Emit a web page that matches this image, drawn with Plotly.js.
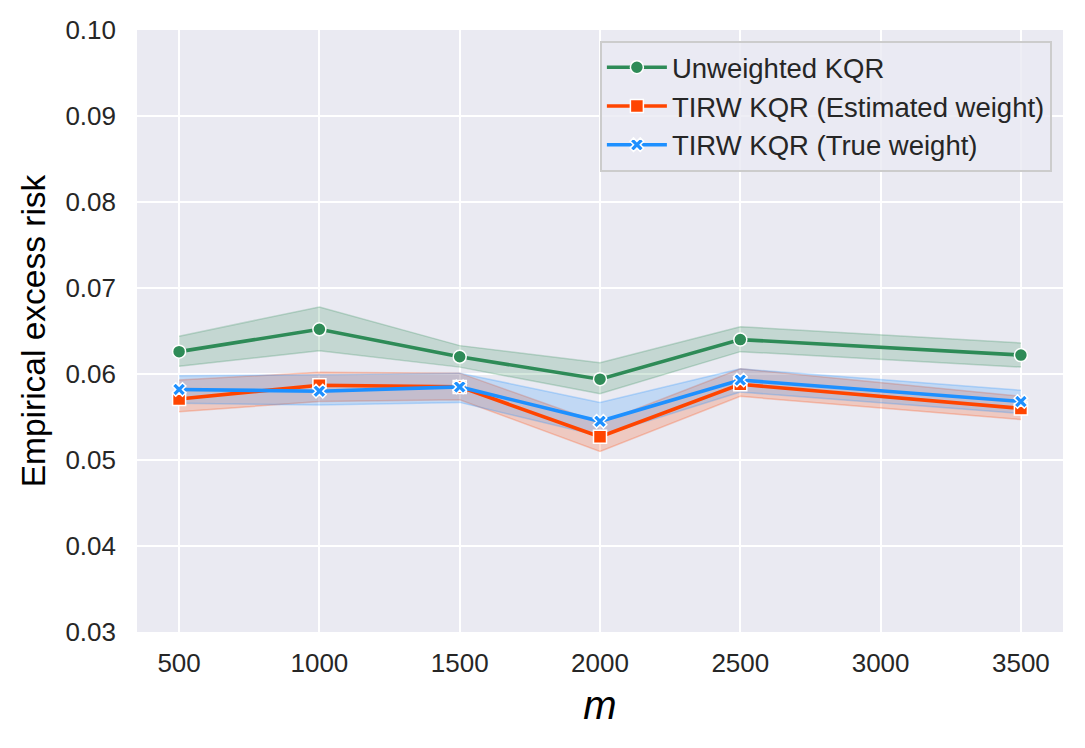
<!DOCTYPE html>
<html>
<head>
<meta charset="utf-8">
<script src="https://cdn.plot.ly/plotly-3.0.1.min.js"></script>
<style>html,body{margin:0;padding:0;background:#fff;}#chart{width:1085px;height:748px;}</style>
</head>
<body>
<div id="chart"></div>
<script>
const m = [500, 1000, 1500, 2000, 2500, 3500];
const xTicks = [500, 1000, 1500, 2000, 2500, 3000, 3500];
const yTicks = [0.03, 0.04, 0.05, 0.06, 0.07, 0.08, 0.09, 0.10];

const unweighted    = [0.0626, 0.0652, 0.0620, 0.0594, 0.0640, 0.0622];
const unweightedLo  = [0.0609, 0.0627, 0.0608, 0.0577, 0.0626, 0.0608];
const unweightedHi  = [0.0644, 0.0678, 0.0633, 0.0613, 0.0655, 0.0636];

const estimated     = [0.0571, 0.0587, 0.0585, 0.0527, 0.0588, 0.0560];
const estimatedLo   = [0.0556, 0.0568, 0.0570, 0.0510, 0.0574, 0.0547];
const estimatedHi   = [0.0593, 0.0602, 0.0601, 0.0543, 0.0606, 0.0574];

const trueW         = [0.0582, 0.0580, 0.0585, 0.0545, 0.0593, 0.0568];
const trueLo        = [0.0566, 0.0564, 0.0567, 0.0528, 0.0579, 0.0554];
const trueHi        = [0.0598, 0.0599, 0.0601, 0.0567, 0.0606, 0.0581];

const names = ['Unweighted KQR', 'TIRW KQR (Estimated weight)', 'TIRW KQR (True weight)'];
const colors = ['#2E8B57', '#FF4500', '#1E90FF'];
const rgb = ['46,139,87', '255,69,0', '30,144,255'];
const symbols = ['circle', 'square', 'x'];
const sizes = [13, 13, 12];
const means = [unweighted, estimated, trueW];
const los = [unweightedLo, estimatedLo, trueLo];
const his = [unweightedHi, estimatedHi, trueHi];

const traces = [];
for (let i = 0; i < 3; i++) {
  traces.push({
    x: m, y: los[i], type: 'scatter', mode: 'lines',
    line: {color: 'rgba(' + rgb[i] + ',0.25)', width: 1.5},
    showlegend: false, hoverinfo: 'skip'
  });
  traces.push({
    x: m, y: his[i], type: 'scatter', mode: 'lines', fill: 'tonexty',
    fillcolor: 'rgba(' + rgb[i] + ',0.2)',
    line: {color: 'rgba(' + rgb[i] + ',0.25)', width: 1.5},
    showlegend: false, hoverinfo: 'skip'
  });
}
for (let i = 0; i < 3; i++) {
  traces.push({
    x: m, y: means[i], type: 'scatter', mode: 'lines+markers', name: names[i],
    line: {color: colors[i], width: 3.6},
    marker: {symbol: symbols[i], size: sizes[i], color: colors[i], line: {color: '#ffffff', width: 1.5}}
  });
}

const layout = {
  width: 1085, height: 748,
  margin: {l: 137, r: 22, t: 30, b: 116},
  paper_bgcolor: '#ffffff',
  plot_bgcolor: '#EAEAF2',
  font: {family: 'Liberation Sans, Arial, sans-serif', color: '#262626', size: 26.5},
  xaxis: {
    range: [350, 3650], tickvals: xTicks, ticktext: xTicks.map(String),
    showgrid: true, gridcolor: '#ffffff', gridwidth: 2, zeroline: false, showline: false,
    ticks: '', ticklabelstandoff: 13,
    tickfont: {size: 26, color: '#262626'},
    title: {text: '<i>m</i>', font: {size: 40, color: '#000000'}, standoff: 13}
  },
  yaxis: {
    range: [0.03, 0.10], tickvals: yTicks, ticktext: yTicks.map(v => v.toFixed(2)),
    showgrid: true, gridcolor: '#ffffff', gridwidth: 2, zeroline: false, showline: false,
    ticks: '', ticklabelstandoff: 20,
    tickfont: {size: 26, color: '#262626'},
    title: {text: 'Empirical excess risk', font: {size: 33.5, color: '#000000'}, standoff: 9}
  },
  legend: {
    x: 0.988, y: 0.982, xanchor: 'right', yanchor: 'top',
    bgcolor: 'rgba(234,234,242,0.8)', bordercolor: '#CCCCCC', borderwidth: 2,
    font: {size: 27.5, color: '#262626'},
    traceorder: 'normal',
    tracegroupgap: 0, itemwidth: 60
  },
  showlegend: true
};

Plotly.newPlot('chart', traces, layout, {displayModeBar: false, staticPlot: true});
</script>
</body>
</html>
